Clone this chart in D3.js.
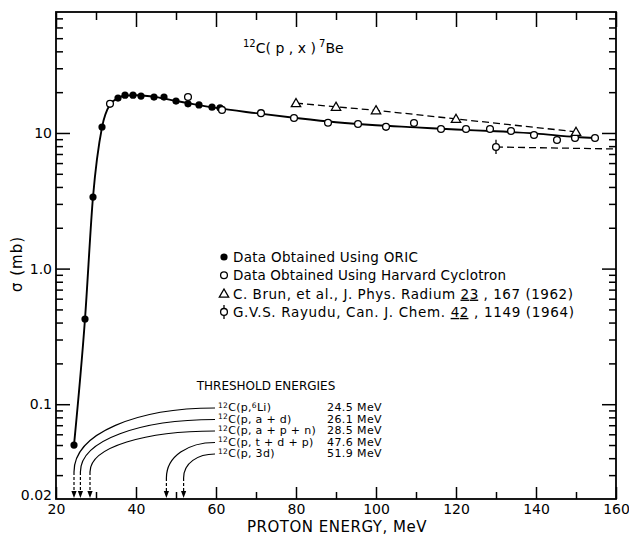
<!DOCTYPE html>
<html><head><meta charset="utf-8">
<script src="https://cdn.jsdelivr.net/npm/d3@7"></script>
<style>
body{margin:0;background:#fff}
text{font-family:"DejaVu Sans",sans-serif;fill:#000}
</style>
</head><body>
<svg id="c" width="629" height="540"></svg>
<script>
// ---------- data ----------
const oricE = [24.5,27.25,29.25,31.5,35.5,37.25,39.25,41.25,44.5,47,50,53,55.75,59,61];
const oricS = [0.050,0.425,3.37,11.07,18.1,19.0,19.0,18.7,18.4,18.4,17.2,16.4,16.1,15.5,15.3];
const harvE = [33.5,53,61.5,71.25,79.5,88,95.5,102.5,109.5,116.25,122.5,128.5,133.75,139.5,145.25,149.75,154.75];
const harvS = [16.4,18.4,14.8,14.0,12.9,11.9,11.65,11.1,11.85,10.7,10.7,10.7,10.35,9.67,8.88,9.19,9.19];
const brunE = [80,90,100,120,150];
const brunS = [16.6,15.6,14.7,12.7,10.2];
const rayE = [130];
const rayS = [7.88];
const rayLo = [7.0];
const rayHi = [8.9];
const rayLineE = [130,160];
const rayLineS = [7.88,7.62];
const curveE = [24.5,27.25,29.25,31.5,33.5,35.5,37.5,40,45,50,55,60,70,80,90,100,110,120,130,140,150,155];
const curveS = [0.05,0.425,3.37,11.0,16.2,18.1,18.9,19.0,18.4,17.2,16.2,15.3,14.0,12.9,12.0,11.4,11.0,10.6,10.3,9.9,9.35,9.2];
const xMajor = [20,40,60,80,100,120,140,160];
const xMinor = [30,50,70,90,110,130,150];
const yMajor = [0.1,1,10];
const yMajorLabels = ["0.1","1.0","10"];
const threshE = [24.5,26.1,28.5,47.6,51.9];
const threshVal = ["24.5 MeV","26.1 MeV","28.5 MeV","47.6 MeV","51.9 MeV"];
const threshRxn = [
  [["12","sup"],["C(p,",""],["6","sup"],["Li)",""]],
  [["12","sup"],["C(p, a + d)",""]],
  [["12","sup"],["C(p, a + p + n)",""]],
  [["12","sup"],["C(p, t + d + p)",""]],
  [["12","sup"],["C(p, 3d)",""]]
];
const legendLabels = [
  [["Data Obtained Using ORIC",""]],
  [["Data Obtained Using Harvard Cyclotron",""]],
  [["C. Brun, et al., J. Phys. Radium ",""],["23","u"],[" , 167 (1962)",""]],
  [["G.V.S. Rayudu, Can. J. Chem. ",""],["42","u"],[" , 1149 (1964)",""]]
];

// ---------- scales ----------
const svg = d3.select("#c");
const L = 56, R = 616, T = 12, B = 499;
const x = d3.scaleLinear().domain([20,160]).range([L,R]);
const y = d3.scaleLog().domain([0.02,78]).range([B,T]);

const yMinor = [];
[0.01,0.1,1,10].forEach(d => { for (let k=2;k<=9;k++){ const v=+(d*k).toPrecision(3); if (v>0.02 && v<78 && !yMajor.includes(v)) yMinor.push(v);} });

// ---------- axes ----------
function styleAxis(g){ g.select(".domain").remove(); g.selectAll("line").attr("stroke","#000").attr("stroke-width",1.5); g.selectAll("text").attr("font-family","DejaVu Sans").attr("font-size",14).attr("fill","#000"); }

svg.append("g").attr("transform",`translate(0,${B})`)
  .call(d3.axisBottom(x).tickValues(xMajor).tickSize(-12).tickPadding(5).tickFormat(d3.format("d"))).call(styleAxis);
svg.append("g").attr("transform",`translate(0,${B})`)
  .call(d3.axisBottom(x).tickValues(xMinor).tickSize(-7).tickFormat("")).call(styleAxis);
svg.append("g").attr("transform",`translate(0,${T})`)
  .call(d3.axisTop(x).tickValues(xMajor).tickSize(-15).tickFormat("")).call(styleAxis);
svg.append("g").attr("transform",`translate(0,${T})`)
  .call(d3.axisTop(x).tickValues(xMinor).tickSize(-8).tickFormat("")).call(styleAxis);

svg.append("g").attr("transform",`translate(${L},0)`)
  .call(d3.axisLeft(y).tickValues(yMajor).tickSize(-14).tickPadding(4).tickFormat((d,i)=>yMajorLabels[i])).call(styleAxis);
svg.append("g").attr("transform",`translate(${L},0)`)
  .call(d3.axisLeft(y).tickValues(yMinor).tickSize(-7).tickFormat("")).call(styleAxis);
const g002 = svg.append("g").attr("transform",`translate(${L},-4)`)
  .call(d3.axisLeft(y).tickValues([0.02]).tickSize(0).tickPadding(4).tickFormat(()=> "0.02")).call(styleAxis);
svg.append("g").attr("transform",`translate(${R},0)`)
  .call(d3.axisRight(y).tickValues(yMajor).tickSize(-14).tickFormat("")).call(styleAxis);
svg.append("g").attr("transform",`translate(${R},0)`)
  .call(d3.axisRight(y).tickValues(yMinor).tickSize(-7).tickFormat("")).call(styleAxis);

// frame
svg.append("rect").attr("x",L).attr("y",T).attr("width",R-L).attr("height",B-T)
  .attr("fill","none").attr("stroke","#000").attr("stroke-width",1.8);

// axis titles
svg.append("text").attr("x",337).attr("y",527).attr("dy","0.35em").attr("text-anchor","middle")
  .attr("font-size",15).attr("letter-spacing",0.5).text("PROTON ENERGY, MeV");
svg.append("text").attr("transform","translate(17,264) rotate(-90)").attr("dy","0.35em")
  .attr("text-anchor","middle").attr("font-size",15).attr("letter-spacing",1).text("σ (mb)");

// title
const title = svg.append("text").attr("x",243).attr("y",53).attr("font-size",14);
title.append("tspan").attr("font-size",10).attr("dy",-6).text("12");
title.append("tspan").attr("dy",6).text("C( p , x )");
title.append("tspan").attr("font-size",10).attr("dy",-6).text(" 7");
title.append("tspan").attr("dy",6).text("Be");

// ---------- curves ----------
const line = d3.line().x(d=>x(d[0])).y(d=>y(d[1]));
svg.append("path").datum(curveE.map((e,i)=>[e,curveS[i]]))
  .attr("d",line.curve(d3.curveMonotoneX)).attr("fill","none").attr("stroke","#000").attr("stroke-width",1.9);
svg.append("path").datum(brunE.map((e,i)=>[e,brunS[i]]))
  .attr("d",d3.line().x(d=>x(d[0])).y(d=>y(d[1]))).attr("fill","none").attr("stroke","#000")
  .attr("stroke-width",1.3).attr("stroke-dasharray","7,4");
svg.append("path").datum(rayLineE.map((e,i)=>[e,rayLineS[i]]))
  .attr("d",d3.line().x(d=>x(d[0])).y(d=>y(d[1]))).attr("fill","none").attr("stroke","#000")
  .attr("stroke-width",1.3).attr("stroke-dasharray","7,4");

// ---------- markers ----------
const tri = d3.symbol().type(d3.symbolTriangle).size(38);
function openCircle(g,cx,cy){ g.append("circle").attr("cx",cx).attr("cy",cy).attr("r",3.4).attr("fill","#fff").attr("stroke","#000").attr("stroke-width",1.3); }
function filledCircle(g,cx,cy){ g.append("circle").attr("cx",cx).attr("cy",cy).attr("r",3.6).attr("fill","#000"); }
function triangle(g,cx,cy){ g.append("path").attr("d",tri).attr("transform",`translate(${cx},${cy+0.8})`).attr("fill","#fff").attr("stroke","#000").attr("stroke-width",1.3); }
function rayMark(g,cx,cy,y1,y2){ g.append("line").attr("x1",cx).attr("x2",cx).attr("y1",y1).attr("y2",y2).attr("stroke","#000").attr("stroke-width",1.3); openCircle(g,cx,cy); }

const mk = svg.append("g");
oricE.forEach((e,i)=>filledCircle(mk,x(e),y(oricS[i])));
harvE.forEach((e,i)=>openCircle(mk,x(e),y(harvS[i])));
brunE.forEach((e,i)=>triangle(mk,x(e),y(brunS[i])));
rayE.forEach((e,i)=>rayMark(mk,x(e),y(rayS[i]),y(rayHi[i]),y(rayLo[i])));

// ---------- legend ----------
const legX = 224, legY0 = 257, legDy = 18.3;
const legLen = [185, 273, 340, 341];
const lg = svg.append("g");
legendLabels.forEach((segs,i)=>{
  const cy = legY0 + i*legDy;
  if (i===0) filledCircle(lg,legX,cy);
  if (i===1) openCircle(lg,legX,cy);
  if (i===2) triangle(lg,legX,cy);
  if (i===3) rayMark(lg,legX,cy,cy-7,cy+7);
  const t = lg.append("text").attr("x",legX+9).attr("y",cy+5).attr("font-size",13.5)
    .attr("textLength",legLen[i]).attr("lengthAdjust","spacing");
  segs.forEach(s=>{ const ts=t.append("tspan").text(s[0]); if(s[1]==="u") ts.attr("text-decoration","underline"); });
});

// ---------- threshold energies ----------
const th = svg.append("g");
th.append("text").attr("x",266).attr("y",386).attr("dy","0.35em").attr("text-anchor","middle")
  .attr("font-size",12).text("THRESHOLD ENERGIES");
const rowY0 = 407, rowDy = 11.5, labX = 218, valX = 327, tipY = B;
threshE.forEach((e,i)=>{
  const ry = rowY0 + i*rowDy;
  const t = th.append("text").attr("x",labX).attr("y",ry+4).attr("font-size",11).attr("letter-spacing",0.3);
  threshRxn[i].forEach(s=>{
    if (s[1]==="sup") t.append("tspan").attr("font-size",7.5).attr("dy",-3.5).text(s[0]);
    else t.append("tspan").attr("dy",3.5).text(s[0]);
  });
  th.append("text").attr("x",valX).attr("y",ry+4).attr("font-size",11).attr("letter-spacing",0.4).text(threshVal[i]);
  const ax = x(e), sx = labX-3, ey = (i<3) ? 472 : 478;
  const p = d3.path();
  p.moveTo(sx, ry+1);
  p.bezierCurveTo(ax + (sx-ax)*0.45, ry+1, ax, ry + (ey-ry)*0.4, ax, ey);
  th.append("path").attr("d",p.toString()).attr("fill","none").attr("stroke","#000").attr("stroke-width",1.2);
  th.append("line").attr("x1",ax).attr("x2",ax).attr("y1",ey).attr("y2",tipY-7)
    .attr("stroke","#000").attr("stroke-width",1.2).attr("stroke-dasharray","3,2");
  th.append("path").attr("d",`M${ax-2.6},${tipY-8}L${ax+2.6},${tipY-8}L${ax},${tipY-1}Z`).attr("fill","#000");
});
</script>
</body></html>
